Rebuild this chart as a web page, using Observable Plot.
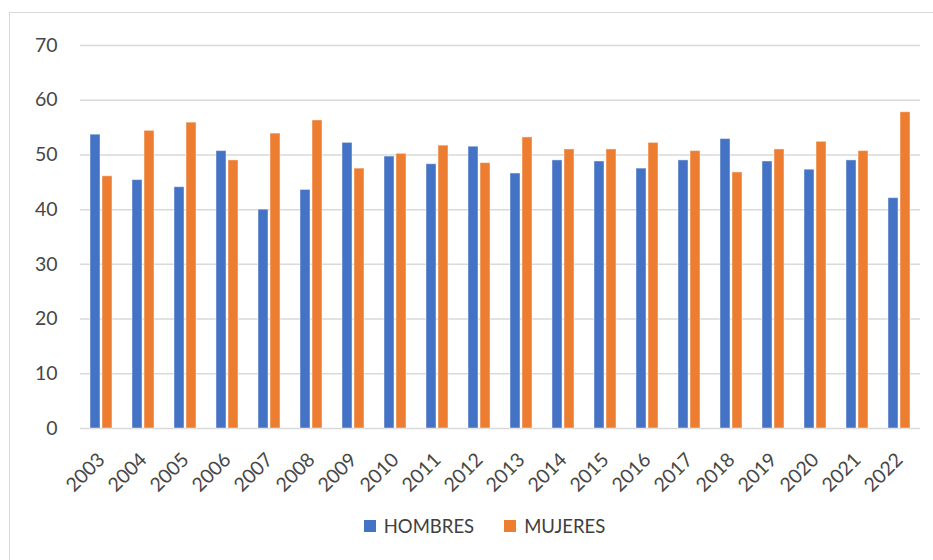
<!DOCTYPE html>
<html>
<head>
<meta charset="utf-8">
<script src="https://cdn.jsdelivr.net/npm/d3@7"></script>
<script src="https://cdn.jsdelivr.net/npm/@observablehq/plot@0.6"></script>
<style>
  html, body { margin: 0; padding: 0; background: #fff; }
  #wrap { position: relative; width: 933px; height: 560px; overflow: hidden; font-family: Lato, "Open Sans", sans-serif; }
  #frame { position: absolute; left: 9px; top: 12px; width: 940px; height: 560px; border: 1px solid #d9d9d9; box-sizing: border-box; }
  #chart { position: absolute; left: 0; top: 0; }
  #legend { position: absolute; left: 18px; top: 515px; width: 933px; display: flex; justify-content: center; gap: 30px; font-size: 18.5px; color: #404040; }
  .item { display: flex; align-items: center; gap: 8px; }
  .sw { width: 12px; height: 12px; display: inline-block; }
</style>
</head>
<body>
<div id="wrap">
  <div id="frame"></div>
  <div id="chart"></div>
  <div id="legend"></div>
</div>
<script>
const years = ["2003","2004","2005","2006","2007","2008","2009","2010","2011","2012","2013","2014","2015","2016","2017","2018","2019","2020","2021","2022"];
const hombres = [53.7,45.4,44.1,50.7,40.0,43.6,52.2,49.7,48.3,51.5,46.6,49.0,48.8,47.5,49.0,52.9,48.8,47.3,49.0,42.1];
const mujeres = [46.1,54.4,55.9,49.0,53.9,56.3,47.5,50.2,51.7,48.5,53.2,51.0,51.0,52.2,50.7,46.8,51.0,52.4,50.7,57.8];
const series = ["HOMBRES","MUJERES"];
const colors = ["#4472C4","#ED7D31"];
const yTicks = [0,10,20,30,40,50,60,70];

const data = [];
years.forEach((y, i) => {
  data.push({year: y, sexo: series[0], valor: hombres[i]});
  data.push({year: y, sexo: series[1], valor: mujeres[i]});
});

const chart = Plot.plot({
  width: 933,
  height: 500,
  marginTop: 45,
  marginBottom: 72,
  marginLeft: 75,
  marginRight: 8,
  style: {fontFamily: "Lato, 'Open Sans', sans-serif", fontSize: "19.5px", color: "#474747", background: "transparent"},
  fx: {domain: years, padding: 0, label: null, tickRotate: -45, tickSize: 0, tickPadding: 28},
  x: {domain: series, paddingInner: 0.19, paddingOuter: 0.73, axis: null},
  y: {domain: [0, 70], ticks: yTicks, label: null, tickSize: 0, tickPadding: 23},
  color: {domain: series, range: colors},
  marks: [
    Plot.ruleY(yTicks, {stroke: "#d9d9d9", strokeWidth: 1.5}),
    Plot.barY(data, {fx: "year", x: "sexo", y: "valor", fill: "sexo", stroke: "#ffffff", strokeOpacity: 0.45, strokeWidth: 1})
  ]
});
document.getElementById("chart").appendChild(chart);

const legend = document.getElementById("legend");
series.forEach((s, i) => {
  const it = document.createElement("div");
  it.className = "item";
  const sw = document.createElement("span");
  sw.className = "sw";
  sw.style.background = colors[i];
  const t = document.createElement("span");
  t.textContent = s;
  it.appendChild(sw);
  it.appendChild(t);
  legend.appendChild(it);
});
</script>
</body>
</html>
